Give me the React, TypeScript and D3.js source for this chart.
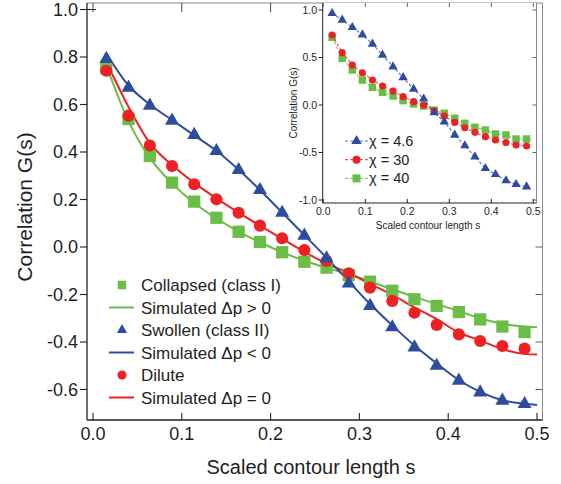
import React from "react";
import * as d3 from "d3";

// main plot data (scaled contour length s vs correlation)
const sMain = [0.015, 0.04, 0.064, 0.089, 0.114, 0.139, 0.164, 0.188, 0.213, 0.238, 0.263, 0.288, 0.312, 0.337, 0.362, 0.387, 0.412, 0.436, 0.461, 0.486];
const collapsed = [0.752, 0.539, 0.383, 0.271, 0.191, 0.123, 0.064, 0.021, -0.022, -0.062, -0.087, -0.118, -0.146, -0.184, -0.22, -0.248, -0.274, -0.305, -0.335, -0.358];
const swollen = [0.792, 0.671, 0.595, 0.532, 0.472, 0.404, 0.324, 0.24, 0.144, 0.048, -0.048, -0.153, -0.248, -0.338, -0.423, -0.5, -0.563, -0.612, -0.647, -0.661];
const dilute = [0.742, 0.553, 0.427, 0.341, 0.264, 0.201, 0.144, 0.09, 0.037, -0.013, -0.059, -0.111, -0.171, -0.227, -0.277, -0.328, -0.368, -0.396, -0.417, -0.428];

const sSim = [0.015, 0.04, 0.064, 0.089, 0.114, 0.139, 0.164, 0.188, 0.213, 0.238, 0.263, 0.288, 0.312, 0.337, 0.362, 0.387, 0.412, 0.436, 0.461, 0.486, 0.5];
const simPos = [0.765, 0.53, 0.375, 0.268, 0.185, 0.12, 0.065, 0.02, -0.022, -0.058, -0.088, -0.115, -0.145, -0.178, -0.21, -0.24, -0.27, -0.3, -0.323, -0.335, -0.338];
const simNeg = [0.815, 0.68, 0.6, 0.535, 0.47, 0.405, 0.325, 0.24, 0.145, 0.05, -0.045, -0.145, -0.24, -0.33, -0.415, -0.49, -0.56, -0.61, -0.645, -0.66, -0.665];
const simZero = [0.78, 0.59, 0.437, 0.345, 0.27, 0.205, 0.145, 0.09, 0.035, -0.02, -0.07, -0.11, -0.155, -0.202, -0.254, -0.304, -0.36, -0.393, -0.43, -0.45, -0.453];

// inset data
const sInset = [0.021, 0.045, 0.069, 0.093, 0.117, 0.141, 0.166, 0.19, 0.215, 0.239, 0.264, 0.288, 0.313, 0.337, 0.361, 0.386, 0.41, 0.435, 0.459, 0.484];
const chi46 = [0.965, 0.895, 0.818, 0.74, 0.642, 0.526, 0.403, 0.29, 0.168, 0.065, -0.079, -0.176, -0.316, -0.428, -0.544, -0.667, -0.73, -0.796, -0.835, -0.86];
const chi30 = [0.737, 0.551, 0.421, 0.34, 0.263, 0.2, 0.147, 0.088, 0.035, 0.0, -0.06, -0.116, -0.183, -0.239, -0.288, -0.333, -0.368, -0.396, -0.421, -0.432];
const chi40 = [0.712, 0.491, 0.368, 0.263, 0.186, 0.133, 0.095, 0.046, 0.011, -0.011, -0.055, -0.088, -0.14, -0.193, -0.235, -0.263, -0.305, -0.316, -0.358, -0.358];

const xTicks = [0, 0.1, 0.2, 0.3, 0.4, 0.5];
const yTicks = [-0.6, -0.4, -0.2, 0, 0.2, 0.4, 0.6, 0.8, 1.0];
const insetYTicks = [-1, -0.5, 0, 0.5, 1];

const GREEN = "#6abd45";
const BLUE = "#2e4c9e";
const RED = "#ed2024";
const FONT = "'Liberation Sans', Arial, Helvetica, sans-serif";

const legendItems = [
  { label: "Collapsed (class I)", color: GREEN, kind: "square" },
  { label: "Simulated \u0394p > 0", color: GREEN, kind: "line" },
  { label: "Swollen (class II)", color: BLUE, kind: "triangle" },
  { label: "Simulated \u0394p < 0", color: BLUE, kind: "line" },
  { label: "Dilute", color: RED, kind: "circle" },
  { label: "Simulated \u0394p = 0", color: RED, kind: "line" },
];

const insetLegend = [
  { label: "\u03c7 = 4.6", color: BLUE, kind: "triangle" },
  { label: "\u03c7 = 30", color: RED, kind: "circle" },
  { label: "\u03c7 = 40", color: GREEN, kind: "square" },
];

function sym(kind: string, size: number) {
  const t = kind === "square" ? d3.symbolSquare : kind === "triangle" ? d3.symbolTriangle : d3.symbolCircle;
  return d3.symbol().type(t).size(size)() as string;
}

export default function App() {
  const W = 561, H = 484;
  // main frame
  const left = 87, right = 542.5, top = 3, bottom = 420;
  const x = d3.scaleLinear().domain([0, 0.5]).range([93, 537]);
  const y = d3.scaleLinear().domain([0, 1]).range([247, 9.5]);

  const line = d3.line<[number, number]>().x((d) => x(d[0])).y((d) => y(d[1])).curve(d3.curveMonotoneX);
  const sims = [
    { vals: simPos, color: GREEN },
    { vals: simZero, color: RED },
    { vals: simNeg, color: BLUE },
  ];
  const marks = [
    { vals: collapsed, color: GREEN, kind: "square", size: 150 },
    { vals: dilute, color: RED, kind: "circle", size: 115 },
    { vals: swollen, color: BLUE, kind: "triangle", size: 85 },
  ];

  // inset frame
  const iL = 322.7, iR = 536.5, iT = 3, iB = 203;
  const ix = d3.scaleLinear().domain([0, 0.5]).range([323.3, 533.3]);
  const iy = d3.scaleLinear().domain([-1, 1]).range([200, 10]);
  const iline = d3.line<[number, number]>().x((d) => ix(d[0])).y((d) => iy(d[1]));
  const insetSeries = [
    { vals: chi40, color: GREEN, kind: "square", size: 56 },
    { vals: chi30, color: RED, kind: "circle", size: 40 },
    { vals: chi46, color: BLUE, kind: "triangle", size: 38 },
  ];

  return (
    <svg width={W} height={H} style={{ position: "absolute", left: 0, top: 0, background: "#fff" }} fontFamily={FONT}>
      {/* frame */}
      <line x1={left} x2={right} y1={top} y2={top} stroke="#888" strokeWidth={1} />
      <line x1={right} x2={right} y1={top} y2={bottom} stroke="#888" strokeWidth={1} />
      <line x1={left} x2={left} y1={top} y2={bottom} stroke="#222" strokeWidth={1.3} />
      <line x1={left} x2={right} y1={bottom} y2={bottom} stroke="#222" strokeWidth={1.3} />

      {/* y ticks */}
      {yTicks.map((t) => (
        <g key={"y" + t}>
          <line x1={left - 7} x2={left} y1={y(t)} y2={y(t)} stroke="#222" strokeWidth={1.1} />
          {t <= 0 && <line x1={right - 7} x2={right} y1={y(t)} y2={y(t)} stroke="#666" strokeWidth={1} />}
          <text x={78} y={y(t) + 6} textAnchor="end" fontSize={18} fill="#231f20">
            {t.toFixed(1)}
          </text>
        </g>
      ))}
      <line x1={left} x2={left + 9} y1={y(1)} y2={y(1)} stroke="#222" strokeWidth={1} />

      {/* x ticks */}
      {xTicks.map((t) => (
        <g key={"x" + t}>
          <line x1={x(t)} x2={x(t)} y1={bottom - 7} y2={bottom} stroke="#222" strokeWidth={1.1} />
          {t <= 0.2 && <line x1={x(t)} x2={x(t)} y1={top} y2={top + 9} stroke="#444" strokeWidth={1} />}
          <text x={x(t)} y={440} textAnchor="middle" fontSize={18} fill="#231f20">
            {t.toFixed(1)}
          </text>
        </g>
      ))}

      {/* axis titles */}
      <text transform={`translate(32,207) rotate(-90)`} textAnchor="middle" fontSize={21} fill="#231f20">
        Correlation G(s)
      </text>
      <text x={311} y={474} textAnchor="middle" fontSize={20} fill="#231f20">
        Scaled contour length s
      </text>

      {/* simulated curves */}
      {sims.map((s, i) => (
        <path key={"sim" + i} d={line(sSim.map((v, j) => [v, s.vals[j]] as [number, number])) as string} fill="none" stroke={s.color} strokeWidth={2} />
      ))}

      {/* experimental points */}
      {marks.map((m, i) => (
        <g key={"m" + i}>
          {m.vals.map((v, j) => (
            <path key={j} d={sym(m.kind, m.size)} transform={`translate(${x(sMain[j])},${y(v)})`} fill={m.color} />
          ))}
        </g>
      ))}

      {/* legend */}
      {legendItems.map((it, i) => {
        const ly = 285 + i * 22.5;
        return (
          <g key={"lg" + i}>
            {it.kind === "line" ? (
              <line x1={109} x2={134} y1={ly} y2={ly} stroke={it.color} strokeWidth={2} />
            ) : (
              <path d={sym(it.kind, it.kind === "square" ? 72 : it.kind === "triangle" ? 45 : 64)} transform={`translate(122,${ly})`} fill={it.color} />
            )}
            <text x={141} y={ly + 6} fontSize={17} fill="#231f20">
              {it.label}
            </text>
          </g>
        );
      })}

      {/* inset */}
      <g>
        <rect x={iL} y={iT} width={iR - iL} height={iB - iT} fill="#fff" />
        <line x1={iR} x2={iR} y1={iT} y2={iB} stroke="#888" strokeWidth={1} />
        <line x1={iL} x2={iL} y1={iT} y2={iB} stroke="#222" strokeWidth={1} />
        <line x1={iL} x2={iR} y1={iB} y2={iB} stroke="#222" strokeWidth={1} />
        {insetYTicks.map((t) => (
          <g key={"iy" + t}>
            <line x1={iL - 4} x2={iL} y1={iy(t)} y2={iy(t)} stroke="#222" strokeWidth={1} />
            <line x1={iR - 4} x2={iR} y1={iy(t)} y2={iy(t)} stroke="#666" strokeWidth={1} />
            <text x={317} y={iy(t) + 3.8} textAnchor="end" fontSize={10.5} fill="#231f20">
              {t.toFixed(1)}
            </text>
          </g>
        ))}
        {xTicks.map((t) => (
          <g key={"ix" + t}>
            <line x1={ix(t)} x2={ix(t)} y1={iB - 4} y2={iB} stroke="#222" strokeWidth={1} />
            <line x1={ix(t)} x2={ix(t)} y1={iT} y2={iT + 4} stroke="#666" strokeWidth={1} />
            <text x={ix(t)} y={215} textAnchor="middle" fontSize={10.5} fill="#231f20">
              {t.toFixed(1)}
            </text>
          </g>
        ))}
        <text transform={`translate(297,103) rotate(-90)`} textAnchor="middle" fontSize={10} fill="#231f20">
          Correlation G(s)
        </text>
        <text x={428} y={229} textAnchor="middle" fontSize={10} fill="#231f20">
          Scaled contour length s
        </text>
        {insetSeries.map((s, i) => (
          <g key={"is" + i}>
            <path d={iline(sInset.map((v, j) => [v, s.vals[j]] as [number, number])) as string} fill="none" stroke={s.color} strokeOpacity={0.75} strokeWidth={1.2} strokeDasharray="3,2" />
            {s.vals.map((v, j) => (
              <path key={j} d={sym(s.kind, s.size)} transform={`translate(${ix(sInset[j])},${iy(v)})`} fill={s.color} />
            ))}
          </g>
        ))}
        {insetLegend.map((it, i) => {
          const ly = 141 + i * 18.7;
          return (
            <g key={"il" + i}>
              <line x1={345} x2={368} y1={ly} y2={ly} stroke={it.color} strokeOpacity={0.75} strokeWidth={1.2} strokeDasharray="3,2" />
              <path d={sym(it.kind, it.kind === "square" ? 64 : it.kind === "triangle" ? 48 : 50)} transform={`translate(356.5,${ly})`} fill={it.color} />
              <text x={369} y={ly + 5} fontSize={14.5} fill="#231f20">
                {it.label}
              </text>
            </g>
          );
        })}
      </g>
    </svg>
  );
}
